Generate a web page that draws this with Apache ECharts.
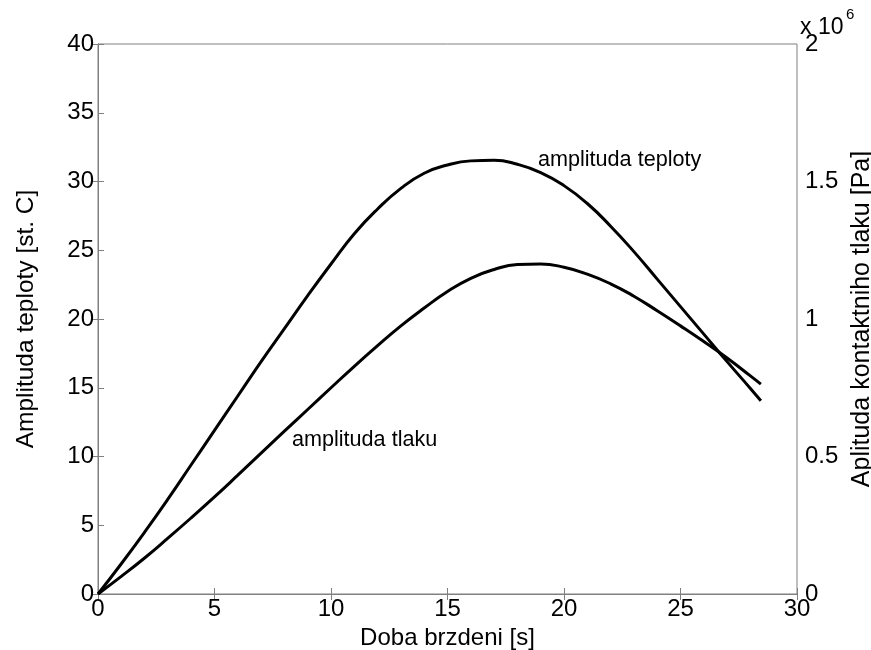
<!DOCTYPE html>
<html>
<head>
<meta charset="utf-8">
<script src="https://cdn.jsdelivr.net/npm/echarts@6/dist/echarts.min.js"></script>
<style>
  html, body { margin: 0; padding: 0; background: #fff; }
  #main { width: 871px; height: 650px; }
</style>
</head>
<body>
<div id="main"></div>
<script>
// time axis [s]
var timeS = [0, 1, 2, 3, 4, 5, 6, 7, 8, 9, 10, 11, 12, 13, 14, 15, 16, 17, 18, 19,
  20, 21, 22, 23, 24, 25, 26, 27, 28, 28.45];
// temperature amplitude [st. C], left axis
var tempAmp = [0, 2.2, 4.5, 6.9, 9.4, 11.9, 14.4, 16.9, 19.3, 21.7, 24.0, 26.2, 28.0, 29.5,
  30.6, 31.2, 31.5, 31.55, 31.25, 30.65, 29.7, 28.4, 26.75, 24.9, 22.9, 20.9, 18.9, 16.9, 14.95, 14.05];
// contact pressure amplitude [x 10^6 Pa], right axis
var pressAmp = [0, 0.064, 0.131, 0.203, 0.277, 0.353, 0.432, 0.512, 0.592, 0.671, 0.750,
  0.828, 0.903, 0.975, 1.040, 1.100, 1.148, 1.180, 1.198, 1.200, 1.188, 1.163, 1.128,
  1.083, 1.030, 0.975, 0.918, 0.858, 0.793, 0.763];
var leftTicks = [0, 5, 10, 15, 20, 25, 30, 35, 40];
var rightTicks = [0, 0.5, 1, 1.5, 2];

var font = 'Liberation Sans, Arial, Helvetica, sans-serif';
var axisGrey = '#808080';

var chart = echarts.init(document.getElementById('main'));

function pairs(xs, ys) {
  return xs.map(function (x, i) { return [x, ys[i]]; });
}

var option = {
  backgroundColor: '#fff',
  animation: false,
  grid: {
    left: 98, right: 74, top: 44, bottom: 56,
    containLabel: false, outerBoundsMode: 'none',
    show: true, borderColor: axisGrey, borderWidth: 1
  },
  textStyle: { fontFamily: font },
  xAxis: [{
    type: 'value', min: 0, max: 30, interval: 5,
    name: 'Doba brzdeni [s]', nameLocation: 'middle', nameGap: 32,
    nameTextStyle: { fontSize: 24, color: '#000', fontFamily: font },
    axisLine: { show: true, lineStyle: { color: axisGrey } },
    axisTick: { show: true, inside: true, length: 6, lineStyle: { color: axisGrey } },
    axisLabel: { fontSize: 24, color: '#000', margin: 3, fontFamily: font },
    splitLine: { show: false }
  }, {
    type: 'value', min: 0, max: 30, interval: 5, position: 'top',
    axisLine: { show: true, lineStyle: { color: axisGrey } },
    axisTick: { show: true, inside: true, length: 6, lineStyle: { color: axisGrey } },
    axisLabel: { show: false },
    splitLine: { show: false }
  }],
  yAxis: [{
    type: 'value', min: 0, max: 40, interval: 5, position: 'left',
    name: 'Amplituda teploty [st. C]', nameLocation: 'middle', nameGap: 59,
    nameTextStyle: { fontSize: 24.5, color: '#000', fontFamily: font },
    axisLine: { show: true, lineStyle: { color: axisGrey } },
    axisTick: { show: true, inside: true, length: 6, lineStyle: { color: axisGrey } },
    axisLabel: { fontSize: 24, color: '#000', margin: 4, fontFamily: font },
    splitLine: { show: false }
  }, {
    type: 'value', min: 0, max: 2, interval: 0.5, position: 'right',
    name: 'Aplituda kontaktniho tlaku [Pa]', nameLocation: 'middle', nameGap: 46,
    nameRotate: 90,
    nameTextStyle: { fontSize: 25, color: '#000', fontFamily: font },
    axisLine: { show: true, lineStyle: { color: axisGrey } },
    axisTick: { show: true, inside: true, length: 6, lineStyle: { color: axisGrey } },
    axisLabel: {
      fontSize: 24, color: '#000', margin: 8, fontFamily: font,
      formatter: function (v) { return String(v); }
    },
    splitLine: { show: false }
  }],
  series: [{
    name: 'amplituda teploty', type: 'line', xAxisIndex: 0, yAxisIndex: 0,
    data: pairs(timeS, tempAmp), smooth: 0.5, showSymbol: false,
    lineStyle: { color: '#000', width: 3 }
  }, {
    name: 'amplituda tlaku', type: 'line', xAxisIndex: 0, yAxisIndex: 1,
    data: pairs(timeS, pressAmp), smooth: 0.5, showSymbol: false,
    lineStyle: { color: '#000', width: 3 }
  }],
  graphic: [{
    type: 'text', x: 538, y: 160,
    style: { text: 'amplituda teploty', fontSize: 21.6, fill: '#000', fontFamily: font, verticalAlign: 'middle' }
  }, {
    type: 'text', x: 292, y: 440,
    style: { text: 'amplituda tlaku', fontSize: 21.6, fill: '#000', fontFamily: font, verticalAlign: 'middle' }
  }, {
    type: 'text', x: 800, y: 28,
    style: { text: 'x 10', fontSize: 23, fill: '#000', fontFamily: font, verticalAlign: 'middle' }
  }, {
    type: 'text', x: 846, y: 15,
    style: { text: '6', fontSize: 15, fill: '#000', fontFamily: font, verticalAlign: 'middle' }
  }]
};

chart.setOption(option);
</script>
</body>
</html>
